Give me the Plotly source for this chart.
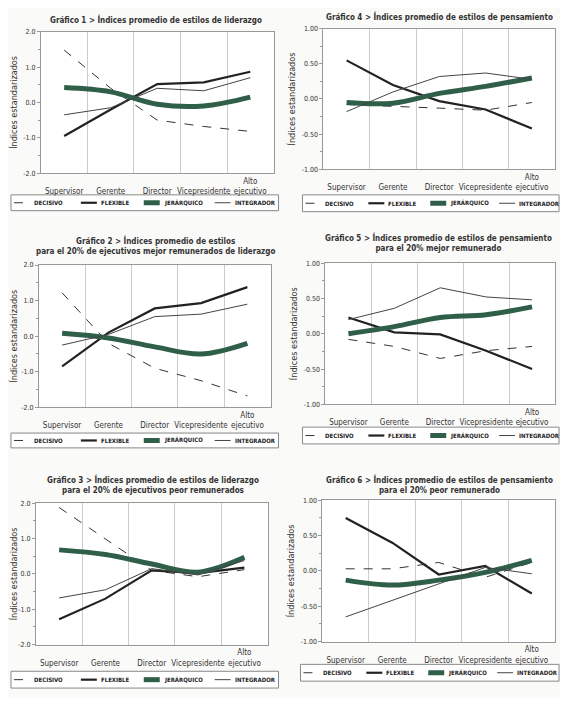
import plotly.graph_objects as go
from plotly.subplots import make_subplots

# the page adds an 8px body margin, so every position below is measured
# in page pixels and shifted by 8 into figure coordinates
PAD = 8
W, H = 568 - PAD, 706 - 2 * PAD

# category labels (x axis) and series names
categorias = ["Supervisor", "Gerente", "Director", "Vicepresidente", "Alto ejecutivo"]
estilos = ["DECISIVO", "FLEXIBLE", "JERÁRQUICO", "INTEGRADOR"]

# Gráfico 1 - liderazgo, todos
g1_decisivo = [1.48, 0.40, -0.50, -0.68, -0.82]
g1_flexible = [-0.95, -0.20, 0.52, 0.57, 0.87]
g1_jerarquico = [0.42, 0.30, -0.05, -0.10, 0.15]
g1_integrador = [-0.35, -0.15, 0.40, 0.33, 0.70]

# Gráfico 2 - liderazgo, 20% mejor remunerados
g2_decisivo = [1.22, -0.20, -0.90, -1.25, -1.68]
g2_flexible = [-0.85, 0.10, 0.78, 0.93, 1.38]
g2_jerarquico = [0.08, -0.05, -0.30, -0.50, -0.20]
g2_integrador = [-0.25, 0.05, 0.55, 0.62, 0.90]

# Gráfico 3 - liderazgo, 20% peor remunerados
g3_decisivo = [1.88, 0.98, 0.10, -0.08, 0.12]
g3_flexible = [-1.28, -0.70, 0.10, 0.02, 0.18]
g3_jerarquico = [0.68, 0.55, 0.28, 0.05, 0.47]
g3_integrador = [-0.68, -0.45, 0.15, -0.03, 0.38]

# Gráfico 4 - pensamiento, todos
g4_decisivo = [-0.08, -0.10, -0.13, -0.16, -0.05]
g4_flexible = [0.55, 0.20, -0.03, -0.15, -0.42]
g4_jerarquico = [-0.05, -0.06, 0.08, 0.18, 0.30]
g4_integrador = [-0.18, 0.10, 0.32, 0.37, 0.28]

# Gráfico 5 - pensamiento, 20% mejor remunerado
g5_decisivo = [-0.08, -0.18, -0.35, -0.24, -0.18]
g5_flexible = [0.23, 0.02, -0.01, -0.24, -0.50]
g5_jerarquico = [0.00, 0.10, 0.23, 0.27, 0.38]
g5_integrador = [0.20, 0.36, 0.65, 0.52, 0.48]

# Gráfico 6 - pensamiento, 20% peor remunerado
g6_decisivo = [0.03, 0.03, 0.12, -0.09, 0.12]
g6_flexible = [0.75, 0.40, -0.05, 0.07, -0.32]
g6_jerarquico = [-0.13, -0.20, -0.13, -0.02, 0.15]
g6_integrador = [-0.65, -0.42, -0.18, 0.05, -0.04]

titulos = [
    "Gráfico 1 > Índices promedio de estilos de liderazgo",
    "Gráfico 2 > Índices promedio de estilos<br>para el 20% de ejecutivos mejor remunerados de liderazgo",
    "Gráfico 3 > Índices promedio de estilos de liderazgo<br>para el 20% de ejecutivos peor remunerados",
    "Gráfico 4 > Índices promedio de estilos de pensamiento",
    "Gráfico 5 > Índices promedio de estilos de pensamiento<br>para el 20% mejor remunerado",
    "Gráfico 6 > Índices promedio de estilos de pensamiento<br>para el 20% peor remunerado",
]

datos = [
    [g1_decisivo, g1_flexible, g1_jerarquico, g1_integrador],
    [g2_decisivo, g2_flexible, g2_jerarquico, g2_integrador],
    [g3_decisivo, g3_flexible, g3_jerarquico, g3_integrador],
    [g4_decisivo, g4_flexible, g4_jerarquico, g4_integrador],
    [g5_decisivo, g5_flexible, g5_jerarquico, g5_integrador],
    [g6_decisivo, g6_flexible, g6_jerarquico, g6_integrador],
]

FONT = "Liberation Sans Narrow, DejaVu Sans Condensed, Arial Narrow, Liberation Sans, sans-serif"
GREEN = "#2f5e49"

estilo_linea = {
    "DECISIVO": dict(color="#333333", width=1, dash="dash"),
    "FLEXIBLE": dict(color="#222222", width=2.2),
    "JERÁRQUICO": dict(color=GREEN, width=5, shape="spline"),
    "INTEGRADOR": dict(color="#444444", width=1),
}


def fx(p):
    return (p - PAD) / W


def fy(p):
    return 1 - (p - PAD) / H


# plot areas measured in page pixels (left, right, top, bottom)
areas = [
    (40, 273, 28, 171),
    (38, 270, 264, 408),
    (35, 267, 505, 648),
    (323, 555, 25, 167),
    (325, 555, 262, 405),
    (322, 555, 502, 645),
]
# title positions (center x, top y)
titulo_pos = [(155, 8), (155, 232), (152, 473), (439, 5), (438, 229), (439, 473)]
# legend boxes (left x, top y, width, height, entry offsets)
izq_dx = [3, 70, 133, 204]
der_dx = [3, 66, 128, 197]
leyenda_pos = [(10, 193, 268, 16, izq_dx), (10, 434, 268, 15, izq_dx), (10, 675, 268, 17, izq_dx),
               (302, 193, 257, 17, der_dx), (302, 428, 257, 17, der_dx), (300, 668, 259, 17, der_dx)]

fig = make_subplots(rows=3, cols=2)
celdas = [(1, 1), (2, 1), (3, 1), (1, 2), (2, 2), (3, 2)]

# two-line tick labels so that "Alto" sits above the baseline like the original
ticktext = ["<br>Supervisor", "<br>Gerente", "<br>Director", "<br>Vicepresidente", "Alto<br>ejecutivo"]


def leyenda(lx, ly, lw, lh, offsets):
    fig.add_shape(type="rect", xref="paper", yref="paper",
                  x0=fx(lx), x1=fx(lx + lw), y0=fy(ly + lh), y1=fy(ly),
                  line=dict(color="#888888", width=1), fillcolor="white", layer="below")
    yc = fy(ly + lh / 2)
    for nombre, dx in zip(estilos, offsets):
        st = estilo_linea[nombre]
        fig.add_shape(type="line", xref="paper", yref="paper",
                      x0=fx(lx + dx), x1=fx(lx + dx + 16), y0=yc, y1=yc,
                      line=dict(color=st["color"], width=st["width"], dash=st.get("dash", "solid")))
        fig.add_annotation(x=fx(lx + dx + 18), y=yc, xref="paper", yref="paper",
                           text="<b>" + nombre + "</b>", showarrow=False,
                           xanchor="left", yanchor="middle",
                           font=dict(size=6, color="#222222", family=FONT))


for i, (serie, (r, c)) in enumerate(zip(datos, celdas)):
    for nombre, valores in zip(estilos, serie):
        fig.add_trace(go.Scatter(
            x=list(range(len(categorias))), y=valores,
            mode="lines", name=nombre,
            line=estilo_linea[nombre], showlegend=False,
        ), row=r, col=c)

    izq, der, arr, aba = areas[i]
    pensamiento = i >= 3
    k = (r - 1) * 2 + c
    xa = "xaxis" if k == 1 else f"xaxis{k}"
    ya = "yaxis" if k == 1 else f"yaxis{k}"
    fig.layout[xa].update(
        domain=[fx(izq), fx(der)], range=[-0.5, 4.5],
        tickvals=list(range(5)), ticktext=ticktext,
        showgrid=False, zeroline=False, ticks="",
        showline=True, linecolor="#999999", mirror=True,
        minor=dict(tickvals=[0.5, 1.5, 2.5, 3.5], showgrid=True, gridcolor="#cccccc", gridwidth=1),
        tickfont=dict(size=8, color="#333333", family=FONT),
    )
    if pensamiento:
        yt = dict(range=[-1, 1], tickvals=[-1, -0.5, 0, 0.5, 1],
                  ticktext=["-1.00", "-0.50", "0.00", "0.50", "1.00"],
                  minor=dict(dtick=0.25, ticks="outside", ticklen=2, tickcolor="#999999"))
    else:
        yt = dict(range=[-2, 2], tickvals=[-2, -1, 0, 1, 2],
                  ticktext=["-2.0", "-1.0", "0.0", "1.0", "2.0"],
                  minor=dict(dtick=0.5, ticks="outside", ticklen=2, tickcolor="#999999"))
    fig.layout[ya].update(
        domain=[fy(aba), fy(arr)], showgrid=False, zeroline=False,
        ticks="outside", ticklen=3, tickcolor="#999999",
        showline=True, linecolor="#999999", mirror=True,
        tickfont=dict(size=7, color="#333333", family=FONT),
        title=dict(text="Índices estandarizados", standoff=4,
                   font=dict(size=9, color="#333333", family=FONT)),
        **yt,
    )

    tx, ty = titulo_pos[i]
    fig.add_annotation(
        x=fx(tx), y=fy(ty), xref="paper", yref="paper",
        text="<b>" + titulos[i] + "</b>", showarrow=False,
        xanchor="center", yanchor="top", align="center",
        font=dict(size=8, color="#333333", family=FONT),
    )

    leyenda(*leyenda_pos[i])

fig.update_layout(
    width=W, height=H,
    margin=dict(l=0, r=0, t=0, b=0),
    paper_bgcolor="#fafaf8", plot_bgcolor="white",
    font=dict(family=FONT),
    showlegend=False,
)

fig.write_html("out.html")
